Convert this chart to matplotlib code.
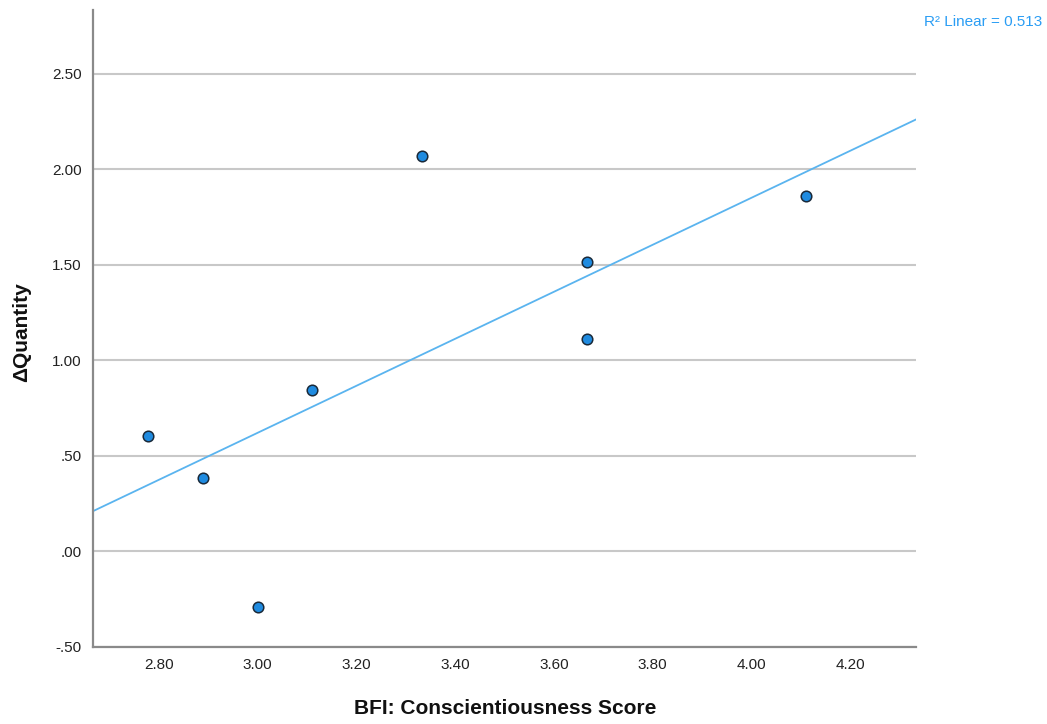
import matplotlib
matplotlib.use("Agg")
import matplotlib.pyplot as plt
import numpy as np
from matplotlib.ticker import FuncFormatter

# BFI conscientiousness scores (ninths) and change in quantity
bfi_score = [25/9, 26/9, 3.0, 28/9, 30/9, 33/9, 33/9, 37/9]
delta_qty = [0.607, 0.387, -0.293, 0.848, 2.073, 1.518, 1.115, 1.859]
x_ticks = [2.8, 3.0, 3.2, 3.4, 3.6, 3.8, 4.0, 4.2]
y_ticks = [-0.5, 0.0, 0.5, 1.0, 1.5, 2.0, 2.5]
r2_label = "R² Linear = 0.513"

plt.rcParams['font.family'] = ['Liberation Sans', 'DejaVu Sans']

fig = plt.figure(figsize=(10.47, 7.24), dpi=100)
ax = fig.add_axes([0.0888, 0.1064, 0.7861, 0.8798])

xlim = (24/9, 39/9)
ax.set_xlim(xlim)
ax.set_ylim(-0.5, 2.835)

# grid lines (horizontal only)
for yv in y_ticks:
    ax.axhline(yv, color='#c8c8c8', lw=1.5, zorder=1)

# linear fit
slope, icpt = np.polyfit(bfi_score, delta_qty, 1)
xs = np.array(xlim)
ax.plot(xs, slope * xs + icpt, color='#5ab4ef', lw=1.3, zorder=2)

ax.scatter(bfi_score, delta_qty, s=58, color='#1f8be0', edgecolors='#1a2a3a',
           linewidths=1.1, zorder=3)

ax.set_xticks(x_ticks)
ax.set_yticks(y_ticks)
ax.xaxis.set_major_formatter(FuncFormatter(lambda v, p: "%.2f" % v))

def spss_fmt(v, p):
    s = "%.2f" % v
    if s.startswith("0."):
        s = s[1:]
    elif s.startswith("-0."):
        s = "-" + s[2:]
    return s

ax.yaxis.set_major_formatter(FuncFormatter(spss_fmt))
ax.tick_params(axis='both', length=0, labelsize=11, colors='#222222')
ax.tick_params(axis='x', pad=8)
ax.tick_params(axis='y', pad=8)

ax.spines['top'].set_visible(False)
ax.spines['right'].set_visible(False)
for s in ['left', 'bottom']:
    ax.spines[s].set_color('#8a8a8a')
    ax.spines[s].set_linewidth(1.6)
    ax.spines[s].set_zorder(4)

fig.text(0.4823, 0.022, "BFI: Conscientiousness Score", ha='center', va='center',
         fontsize=15, fontweight='bold', color='#111111')
fig.text(0.021, 0.541, "ΔQuantity", ha='center', va='center', rotation=90,
         fontsize=15, fontweight='bold', color='#111111')
fig.text(0.9955, 0.9696, r2_label, ha='right', va='center', fontsize=11,
         color='#2a9df4')

fig.savefig("out.png", dpi=100)
